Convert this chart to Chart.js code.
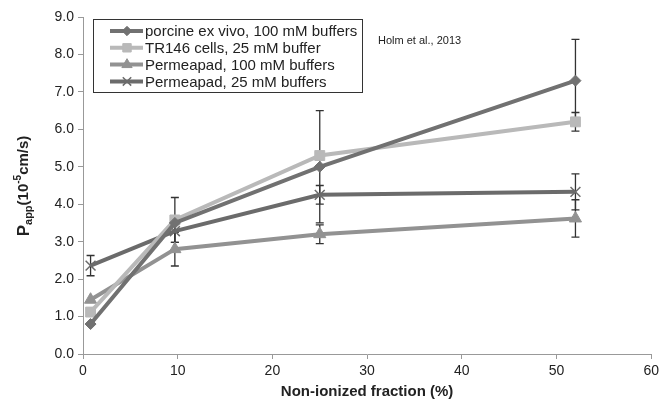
<!DOCTYPE html>
<html>
<head>
<meta charset="utf-8">
<script src="https://cdn.jsdelivr.net/npm/chart.js@4"></script>
<style>
  html, body { margin: 0; padding: 0; background: #fff; }
  #wrap { width: 663px; height: 405px; }
</style>
</head>
<body>
<div id="wrap"><canvas id="chart" width="663" height="405"></canvas></div>
<script>
// non-ionized fraction (%) per measurement
const fractions = [0.8, 9.7, 25, 52];

const porcine = [0.8, 3.5, 5.0, 7.3];
const porcineErr = [0, 0, 1.5, 1.1];

const tr146 = [1.12, 3.58, 5.3, 6.2];
const tr146Err = [0, 0.6, 0, 0.25];

const perm100 = [1.45, 2.8, 3.2, 3.62];
const perm100Err = [0, 0.45, 0.25, 0.5];

const perm25 = [2.36, 3.28, 4.25, 4.33];
const perm25Err = [0.27, 0.3, 0.25, 0.48];

const yTicks = [0, 1, 2, 3, 4, 5, 6, 7, 8, 9];

const FONT = "'Liberation Sans', Arial, sans-serif";

function pts(vals) {
  return vals.map((v, i) => ({ x: fractions[i], y: v }));
}

const series = [
  { label: "porcine ex vivo, 100 mM buffers", vals: porcine, err: porcineErr, color: "#717171", style: "rectRot", r: 5.5 },
  { label: "TR146 cells, 25 mM buffer", vals: tr146, err: tr146Err, color: "#b9b9b9", style: "rect", r: 7 },
  { label: "Permeapad, 100 mM buffers", vals: perm100, err: perm100Err, color: "#929292", style: "triangle", r: 7 },
  { label: "Permeapad, 25 mM buffers", vals: perm25, err: perm25Err, color: "#6b6b6b", style: "crossRot", r: 7 }
];

/* error bars, drawn under the lines */
const errorBars = {
  id: "errorBars",
  beforeDatasetsDraw(chart) {
    const { ctx, scales } = chart;
    ctx.save();
    ctx.strokeStyle = "#333";
    ctx.lineWidth = 1.3;
    series.forEach(s => {
      s.err.forEach((e, i) => {
        if (!e) return;
        const x = scales.x.getPixelForValue(fractions[i]);
        const y1 = scales.y.getPixelForValue(s.vals[i] + e);
        const y2 = scales.y.getPixelForValue(s.vals[i] - e);
        ctx.beginPath();
        ctx.moveTo(x, y1); ctx.lineTo(x, y2);
        ctx.moveTo(x - 4, y1); ctx.lineTo(x + 4, y1);
        ctx.moveTo(x - 4, y2); ctx.lineTo(x + 4, y2);
        ctx.stroke();
      });
    });
    ctx.restore();
  }
};

/* legend box in the top-left of the plot, y title and citation */
const extras = {
  id: "extras",
  afterDraw(chart) {
    const { ctx } = chart;
    ctx.save();
    // legend
    ctx.strokeStyle = "#333";
    ctx.lineWidth = 1;
    ctx.strokeRect(93.5, 19.5, 269, 73);
    ctx.textBaseline = "middle";
    series.forEach((s, i) => {
      const y = 31 + i * 16.8;
      ctx.strokeStyle = s.color;
      ctx.fillStyle = s.color;
      ctx.lineWidth = 4;
      ctx.beginPath();
      ctx.moveTo(110, y); ctx.lineTo(143, y);
      ctx.stroke();
      ctx.lineWidth = s.style === "crossRot" ? 1.5 : 1;
      Chart.helpers.drawPoint(ctx, {
        pointStyle: s.style, radius: s.r * 0.85, borderWidth: ctx.lineWidth
      }, 127, y);
      ctx.fillStyle = "#222";
      ctx.font = "15px " + FONT;
      ctx.fillText(s.label, 145, y + 1);
    });
    // citation
    ctx.font = "11px " + FONT;
    ctx.fillText("Holm et al., 2013", 378, 41);

    // y axis title with sub/superscript
    ctx.translate(24, 186);
    ctx.rotate(-Math.PI / 2);
    const parts = [
      { t: "P", f: "bold 17px " + FONT, dy: 0 },
      { t: "app", f: "bold 11px " + FONT, dy: 5 },
      { t: "(10", f: "bold 15px " + FONT, dy: 0 },
      { t: "-5", f: "bold 10px " + FONT, dy: -6 },
      { t: "cm/s)", f: "bold 15px " + FONT, dy: 0 }
    ];
    let total = 0;
    parts.forEach(p => { ctx.font = p.f; total += ctx.measureText(p.t).width; });
    let x = -total / 2;
    ctx.fillStyle = "#222";
    ctx.textBaseline = "middle";
    parts.forEach(p => {
      ctx.font = p.f;
      ctx.fillText(p.t, x, p.dy);
      x += ctx.measureText(p.t).width;
    });
    ctx.restore();
  }
};

new Chart(document.getElementById("chart"), {
  type: "scatter",
  data: {
    datasets: series.map(s => ({
      label: s.label,
      data: pts(s.vals),
      showLine: true,
      borderColor: s.color,
      backgroundColor: s.color,
      borderWidth: 4,
      pointStyle: s.style,
      pointRadius: s.r,
      pointBorderColor: s.color,
      pointBackgroundColor: s.color,
      pointBorderWidth: s.style === "crossRot" ? 1.5 : 1
    }))
  },
  options: {
    responsive: false,
    animation: false,
    layout: { padding: { top: 17, right: 10, left: 0, bottom: 0 } },
    plugins: {
      legend: { display: false },
      tooltip: { enabled: false }
    },
    scales: {
      x: {
        type: "linear",
        min: 0,
        max: 60,
        afterFit(scale) { scale.height = 51; },
        ticks: { stepSize: 10, color: "#222", font: { family: FONT, size: 14 }, padding: 4 },
        grid: { display: true, drawOnChartArea: false, drawTicks: true, tickLength: 5, color: "#999" },
        border: { color: "#999", width: 1 },
        title: { display: true, text: "Non-ionized fraction (%)", color: "#222", font: { family: FONT, size: 15, weight: "bold" }, padding: { top: 2 } }
      },
      y: {
        min: 0,
        max: 9,
        afterFit(scale) { scale.width = 83; },
        afterBuildTicks(scale) { scale.ticks = yTicks.map(v => ({ value: v })); },
        ticks: { color: "#222", font: { family: FONT, size: 14 }, padding: 4, callback: v => v.toFixed(1) },
        grid: { display: true, drawOnChartArea: false, drawTicks: true, tickLength: 5, color: "#999" },
        border: { color: "#999", width: 1 }
      }
    }
  },
  plugins: [errorBars, extras]
});
</script>
</body>
</html>
